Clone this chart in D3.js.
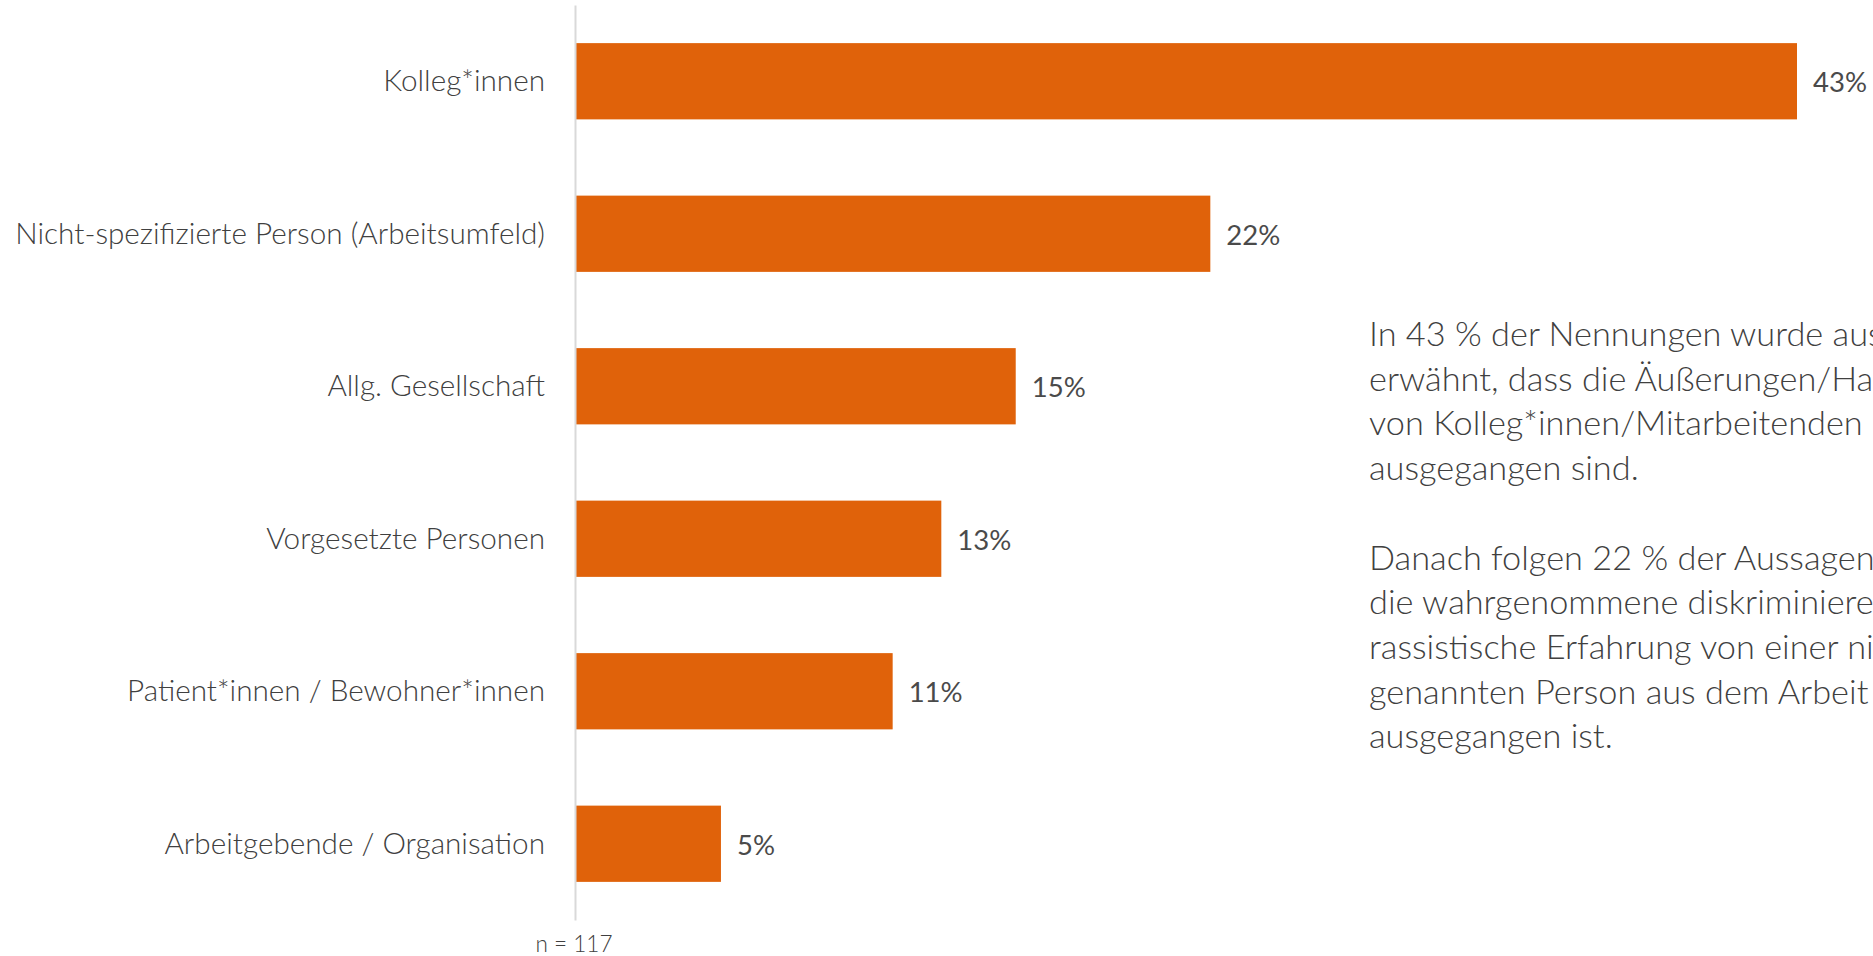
<!DOCTYPE html>
<html>
<head>
<meta charset="utf-8">
<script src="https://cdn.jsdelivr.net/npm/d3@7"></script>
<style>
  html, body { margin: 0; padding: 0; background: #fff; }
  svg { display: block; }
</style>
</head>
<body>
<svg id="chart" width="1873" height="956"></svg>
<script>
const categories = [
    'Kolleg*innen',
    'Nicht-spezifizierte Person (Arbeitsumfeld)',
    'Allg. Gesellschaft',
    'Vorgesetzte Personen',
    'Patient*innen / Bewohner*innen',
    'Arbeitgebende / Organisation'
];
const shares = [42.7, 22.2, 15.4, 12.8, 11.1, 5.1];
const valueLabels = ['43%', '22%', '15%', '13%', '11%', '5%'];
// the text box runs past the right edge in the picture; only the visible part is kept
const noteLines = [
    'In 43 % der Nennungen wurde aus',
    'erwähnt, dass die Äußerungen/Ha',
    'von Kolleg*innen/Mitarbeitenden',
    'ausgegangen sind.',
    '',
    'Danach folgen 22 % der Aussagen,',
    'die wahrgenommene diskriminiere',
    'rassistische Erfahrung von einer ni',
    'genannten Person aus dem Arbeit',
    'ausgegangen ist.'
];
const sampleNote = 'n = 117';

const FONT = 'Lato, "Open Sans", sans-serif';
const TEXT_COL = '#404040';
const BAR_COL = '#E0620A';

const svg = d3.select('#chart');

// pick a font size so that a string gets the width it has in the picture
function fitSize(str, target, weight) {
    let t = svg.append('text')
        .style('font-family', FONT)
        .style('font-weight', weight)
        .style('font-size', '100px')
        .text(str);
    let w = t.node().getComputedTextLength();
    t.remove();
    return 100 * target / w;
}

const labelSize = fitSize(categories[1], 530, 300);
const valueSize = fitSize(valueLabels[0], 54, 400);
const noteSize = fitSize(noteLines[2], 494, 300);
const nSize = fitSize(sampleNote, 77, 300);

const x = d3.scaleLinear()
    .domain([0, shares[0]])
    .range([575, 1797]);

const y = d3.scaleBand()
    .domain(categories)
    .range([5, 920])
    .paddingInner(0.5)
    .paddingOuter(0.25);

// bars
svg.append('g').selectAll('rect')
    .data(categories)
    .enter()
    .append('rect')
    .attr('x', x(0))
    .attr('y', d => y(d))
    .attr('width', (d, i) => x(shares[i]) - x(0))
    .attr('height', y.bandwidth())
    .attr('fill', BAR_COL);

// category axis
const yAxis = svg.append('g')
    .attr('transform', `translate(${x(0)},0)`)
    .call(d3.axisLeft(y).tickSize(0).tickSizeOuter(0).tickPadding(30));
yAxis.select('.domain')
    .attr('stroke', '#D9D9D9')
    .attr('stroke-width', 2);
yAxis.selectAll('text')
    .attr('dy', '0.33em')
    .style('font-family', FONT)
    .style('font-weight', 300)
    .style('font-size', labelSize + 'px')
    .attr('fill', TEXT_COL);

// value labels
svg.append('g').selectAll('text')
    .data(categories)
    .enter()
    .append('text')
    .attr('x', (d, i) => x(shares[i]) + 16)
    .attr('y', d => y(d) + y.bandwidth() / 2)
    .attr('dy', '0.4em')
    .style('font-family', FONT)
    .style('font-size', valueSize + 'px')
    .attr('fill', '#4a4a4a')
    .text((d, i) => valueLabels[i]);

// sample size
svg.append('text')
    .attr('x', x(0) - 1)
    .attr('y', 952)
    .attr('text-anchor', 'middle')
    .style('font-family', FONT)
    .style('font-weight', 300)
    .style('font-size', nSize + 'px')
    .attr('fill', TEXT_COL)
    .text(sampleNote);

// commentary text on the right
svg.append('g').selectAll('text')
    .data(noteLines)
    .enter()
    .append('text')
    .attr('x', 1369)
    .attr('y', (d, i) => 346 + i * 44.7)
    .style('font-family', FONT)
    .style('font-weight', 300)
    .style('font-size', noteSize + 'px')
    .attr('fill', TEXT_COL)
    .text(d => d);
</script>
</body>
</html>
